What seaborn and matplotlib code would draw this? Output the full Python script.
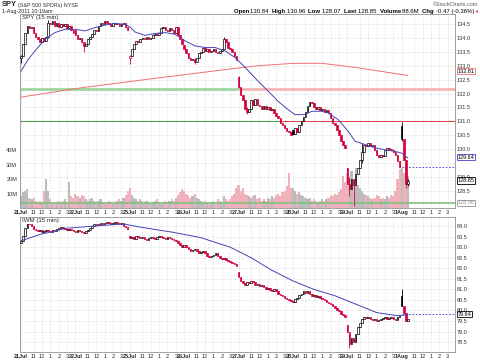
import matplotlib
matplotlib.use('Agg')
import matplotlib.pyplot as plt
import seaborn as sns
import pandas as pd

# --- data (15 min bars, 26 per session) ---
days = ['21Jul', '22Jul', '25Jul', '26Jul', '27Jul', '28Jul', '29Jul', '1Aug']
hour_labels = ['11', '12', '1', '2', '3']
hour_offsets = [6, 10, 14, 18, 22]
bars_per_day = 26

spy_close = [
    133.35, 133.8, 134.2, 134.45, 134.35, 134.4, 134.2, 134.05, 133.95, 133.85, 134.0, 133.9, 134.05,
    134.55, 134.5, 134.6, 134.45, 134.55, 134.4, 134.5, 134.45, 134.5, 134.35, 134.45, 134.3, 134.2,
    134.1, 133.95, 134.0, 133.85, 133.7, 133.8, 133.95, 134.05, 134.15, 134.3, 134.25, 134.45, 134.55,
    134.5, 134.6, 134.55, 134.5, 134.45, 134.55, 134.5, 134.5, 134.45, 134.5, 134.55, 134.4, 134.3,
    133.35, 133.6, 133.8, 133.9, 133.85, 133.95, 134.0, 133.95, 134.05, 133.95, 134.0, 134.1, 134.15,
    134.1, 134.2, 134.35, 134.4, 134.3, 134.25, 134.35, 134.3, 134.2, 134.4, 134.1, 133.95, 133.8,
    133.6, 133.45, 133.3, 133.2, 133.25, 133.15, 133.3, 133.45, 133.5, 133.65, 133.55, 133.6, 133.5,
    133.55, 133.6, 133.5, 133.45, 133.55, 133.6, 133.95, 133.85, 133.65, 133.6, 133.5, 133.35, 133.2,
    132.25, 131.95, 131.75, 131.45, 131.35, 131.45, 131.75, 131.6, 131.8, 131.6, 131.55, 131.45, 131.55,
    131.45, 131.5, 131.4, 131.45, 131.3, 131.2, 131.1, 130.95, 130.85, 130.75, 130.65, 130.6, 130.5,
    130.55, 130.75, 130.6, 130.85, 131.0, 131.15, 131.35, 131.55, 131.7, 131.65, 131.5, 131.45, 131.5,
    131.4, 131.45, 131.35, 131.4, 131.3, 131.1, 130.95, 130.85, 130.7, 130.5, 130.3, 130.15, 130.05,
    128.75, 128.55, 128.9, 128.7, 129.1, 129.3, 129.6, 129.9, 130.15, 130.1, 130.2, 130.1, 130.15,
    129.95, 129.8, 129.7, 129.8, 129.75, 129.95, 130.05, 130.0, 129.95, 129.9, 129.8, 129.55, 129.35,
    130.35, 129.6, 128.75, 128.85,
]
spy_day_open = {0: 133.3, 26: 134.3, 52: 133.3, 78: 133.75, 104: 132.6, 130: 130.7, 156: 129.3, 182: 130.84}
spy_wicks = {0: (133.1, 133.4), 13: (134.0, 134.65), 30: (133.5, 133.8), 52: (133.05, 133.4),
             83: (133.05, 133.3), 97: (133.6, 134.05), 104: (132.2, 132.65), 108: (131.25, 131.5),
             157: (128.3, 129.0), 159: (127.95, 128.9), 163: (129.5, 130.2), 182: (130.3, 130.96),
             184: (128.6, 129.6), 185: (128.65, 128.9)}
spy_volume = [  # millions
    8, 11, 12, 13, 7, 6.5, 7, 5, 4, 5, 4, 12, 20, 12, 6, 4, 3, 4, 5, 4, 5, 6, 4, 18, 8, 7,
    10, 8, 7, 9, 8, 6, 5, 6, 7, 5, 4, 5, 6, 4, 3, 4, 5, 4, 3, 4, 5, 6, 5, 7, 9, 12,
    14, 9, 7, 6, 5, 6, 5, 4, 5, 4, 3, 4, 5, 6, 4, 3, 4, 5, 4, 5, 6, 5, 7, 9, 11, 13,
    12, 10, 9, 7, 8, 10, 7, 6, 5, 4, 5, 4, 3, 4, 5, 4, 6, 5, 4, 8, 6, 5, 6, 8, 10, 14,
    16, 12, 14, 10, 9, 8, 7, 8, 9, 6, 7, 5, 6, 5, 7, 6, 8, 7, 9, 10, 8, 11, 12, 15, 24, 14,
    14, 12, 10, 11, 9, 8, 7, 6, 7, 5, 6, 5, 4, 5, 6, 5, 6, 7, 9, 8, 10, 9, 11, 13, 22, 18,
    24, 20, 26, 18, 28, 16, 14, 12, 10, 9, 8, 7, 6, 7, 9, 8, 6, 7, 6, 8, 7, 9, 8, 12, 20, 27,
    28, 24, 30, 22,
]
spy_ma_bar = [0, 3.5, 6.7, 11.5, 16.2, 21, 25.8, 30.6, 35.4, 40.2, 44.9, 49.7, 52.1, 54.5, 59.3, 64.1,
              68.8, 73.6, 78.4, 83.2, 88, 92.8, 97.5, 102.3, 107.1, 110.3, 113.3, 118.1, 122.9, 127.7,
              131, 135.8, 139, 143.8, 146.8, 151.6, 156.4, 159.7, 164.5, 169.3, 174.1, 178.9, 182, 185]
spy_ma = [132.81, 133.24, 133.54, 133.96, 134.2, 134.32, 134.32, 134.26, 134.38, 134.47, 134.53, 134.5,
          134.4, 134.22, 134.1, 134.17, 134.2, 134.14, 133.9, 133.72, 133.66, 133.66, 133.54, 133.3,
          132.95, 132.69, 132.45, 132.09, 131.72, 131.42, 131.24, 131.24, 131.36, 131.36, 131.3, 131.06,
          130.64, 130.28, 130.16, 130.04, 129.97, 129.91, 129.85, 129.67]
spy_ma200_bar = [0, 29, 60, 92, 107, 113, 130, 144, 161, 185]
spy_ma200 = [131.87, 132.21, 132.51, 132.81, 132.95, 133.0, 133.09, 133.09, 132.93, 132.65]

iwm_close = [
    83.3, 83.55, 83.9, 84.2, 84.1, 84.0, 83.85, 83.8, 83.75, 83.8, 83.7, 83.75, 83.8,
    83.75, 83.7, 83.8, 83.75, 83.85, 83.9, 83.95, 83.9, 83.85, 83.8, 83.85, 83.8, 83.75,
    83.7, 83.8, 83.75, 83.7, 83.65, 83.75, 83.8, 83.9, 84.0, 84.1, 84.05, 84.1, 84.15,
    84.1, 84.15, 84.2, 84.15, 84.1, 84.15, 84.2, 84.15, 84.1, 84.15, 84.0, 83.95, 83.85,
    83.45, 83.5, 83.4, 83.55, 83.5, 83.45, 83.5, 83.4, 83.35, 83.45, 83.5, 83.45, 83.4,
    83.5, 83.55, 83.5, 83.45, 83.4, 83.5, 83.45, 83.4, 83.35, 83.3, 83.2, 83.1, 83.0,
    83.1, 83.0, 82.9, 82.8, 82.85, 82.9, 82.8, 82.7, 82.75, 82.8, 82.7, 82.6, 82.55,
    82.6, 82.65, 82.7, 82.6, 82.5, 82.45, 82.5, 82.4, 82.35, 82.3, 82.25, 82.2, 82.1,
    81.6, 81.4, 81.3, 81.2, 81.35, 81.3, 81.4, 81.35, 81.2, 81.25, 81.15, 81.2, 81.1,
    81.0, 81.05, 80.95, 80.9, 81.0, 80.9, 80.8, 80.75, 80.7, 80.6, 80.55, 80.5, 80.45,
    80.4, 80.55, 80.6, 80.75, 80.8, 80.9, 80.85, 80.9, 80.8, 80.7, 80.75, 80.65, 80.7,
    80.6, 80.55, 80.5, 80.4, 80.35, 80.3, 80.2, 80.1, 80.0, 79.95, 79.85, 79.8, 79.7,
    79.0, 78.4, 78.7, 78.5, 78.9, 79.2, 79.4, 79.6, 79.7, 79.65, 79.7, 79.6, 79.55,
    79.6, 79.5, 79.55, 79.6, 79.65, 79.7, 79.6, 79.65, 79.7, 79.6, 79.55, 79.7, 79.75,
    80.2, 79.9, 79.5, 79.6,
]
iwm_day_open = {0: 83.2, 26: 83.75, 52: 83.55, 78: 83.0, 104: 81.8, 130: 80.45, 156: 79.3, 182: 80.7}
iwm_wicks = {157: (78.2, 78.9), 182: (80.2, 81.0)}
iwm_ma_bar = [0, 9, 22, 35, 49, 57, 73, 86, 100, 110, 120, 130, 140, 150, 160, 170, 180, 185]
iwm_ma = [83.3, 83.6, 83.9, 84.0, 84.1, 83.95, 83.7, 83.45, 83.0, 82.5, 81.9, 81.4, 81.0, 80.7,
          80.3, 79.9, 79.75, 79.8]

RED = '#d6003a'
FS = 4.0
n_slots = bars_per_day * len(days)


def candles(ax, closes, day_open, wicks):
    rows = []
    prev = None
    for i, c in enumerate(closes):
        o = day_open.get(i, prev)
        if prev is None:
            prev = o
        color = RED if c < prev else 'black'
        lo, hi = wicks.get(i, (min(o, c), max(o, c)))
        rows.append((i, o, c, lo, hi, color))
        prev = c
    df = pd.DataFrame(rows, columns=['i', 'o', 'c', 'lo', 'hi', 'color'])
    ax.vlines(df['i'], df['lo'], df['hi'], colors=df['color'], lw=0.6, zorder=3)
    body = (df['c'] - df['o']).abs().clip(lower=0.02)
    face = [col if c < o else 'white' for col, c, o in zip(df['color'], df['c'], df['o'])]
    ax.bar(df['i'], body, bottom=df[['o', 'c']].min(axis=1), width=0.75, color=face,
           edgecolor=df['color'], linewidth=0.5, zorder=4)
    return df


def style_axis(ax, ylim, yticks, hidden=()):
    ax.set_xlim(-0.5, n_slots - 0.5)
    ax.set_ylim(*ylim)
    ax.yaxis.tick_right()
    ax.set_yticks(yticks)
    # tick labels that sit under a value box are left out, as in the picture
    ax.set_yticklabels(['' if t in hidden else f'{t:.1f}' for t in yticks], fontsize=FS, color='#333333')
    ticks, labels = [], []
    for d, name in enumerate(days):
        ticks.append(d * bars_per_day)
        labels.append(name)
        for off, h in zip(hour_offsets, hour_labels):
            ticks.append(d * bars_per_day + off)
            labels.append(h)
    ax.set_xticks(ticks)
    ax.set_xticklabels(labels, fontsize=FS)
    for lab in ax.get_xticklabels():
        if lab.get_text() in days:
            lab.set_fontweight('bold')
    ax.tick_params(length=0, pad=1.5)
    ax.grid(True, color='#c8c8c8', ls=(0, (1, 2)), lw=0.5)
    ax.set_axisbelow(True)
    for s in ax.spines.values():
        s.set_color('#909090')
        s.set_linewidth(0.6)


def side_label(ax, y, text, edge, tcolor='black'):
    ax.annotate(text, xy=(1.006, y), xycoords=('axes fraction', 'data'), fontsize=FS,
                va='center', ha='left', color=tcolor, annotation_clip=False,
                bbox=dict(boxstyle='square,pad=0.12', fc='white', ec=edge, lw=0.6))


sns.set_style('white')
plt.rcParams['font.family'] = ['Liberation Sans', 'DejaVu Sans']

fig = plt.figure(figsize=(4.8, 3.61), dpi=100)
ax1 = fig.add_axes([20 / 480, 1 - 208 / 361, 435 / 480, 194 / 361])
ax2 = fig.add_axes([20 / 480, 1 - 352 / 361, 435 / 480, 135 / 361])

# --- SPY panel ---
axv = ax1.twinx()
style_axis(ax1, (127.87, 134.87), [128.5 + 0.5 * k for k in range(13)], hidden=(129.5,))
spy = candles(ax1, spy_close, spy_day_open, spy_wicks)
vol_col = ['#eea4b0' if c == RED else '#b0b0b0' for c in spy['color']]
axv.bar(range(len(spy_volume)), [v * 1e6 for v in spy_volume], width=1.0, color=vol_col, alpha=0.85, lw=0)
axv.set_ylim(0, 134.7e6)
axv.yaxis.tick_left()
axv.set_yticks([10e6, 20e6, 30e6, 40e6])
axv.set_yticklabels(['10M', '20M', '30M', '40M'], fontsize=FS, color='#333333')
axv.tick_params(length=0, pad=2)
for s in axv.spines.values():
    s.set_visible(False)
axv.set_zorder(0)
ax1.set_zorder(1)
ax1.patch.set_visible(False)
ax1.yaxis.tick_right()

ax1.hlines(132.15, -0.5, 104, color='#9fd49f', lw=2.0, zorder=2)
ax1.hlines(132.15, 104, n_slots - 0.5, color='#f7b4b4', lw=2.0, zorder=2)
ax1.hlines(131.0, -0.5, 123, color='#3c9c3c', lw=0.7, zorder=2)
ax1.hlines(131.0, 123, n_slots - 0.5, color='#e04040', lw=0.7, zorder=2)
ax1.hlines(128.06, -0.5, n_slots - 0.5, color='#80c080', lw=1.2, zorder=2)
ax1.hlines(129.35, 182, n_slots - 0.5, color='#3030d0', lw=0.6, ls=(0, (2, 2)), zorder=2)
sns.lineplot(x=spy_ma200_bar, y=spy_ma200, ax=ax1, color='#f07070', lw=0.7, zorder=2)
sns.lineplot(x=spy_ma_bar, y=spy_ma, ax=ax1, color='#4444bb', lw=0.7, zorder=5)
ax1.set_xlabel('')
ax1.set_ylabel('')
ax1.text(0.004, 0.995, 'SPY (15 min)', transform=ax1.transAxes, fontsize=FS + 0.4, va='top', ha='left',
         bbox=dict(fc='white', ec='none', pad=0.3), zorder=6)
side_label(ax1, 132.81, '132.81', '#f07070')
side_label(ax1, 129.70, '129.64', '#4040c0')
side_label(ax1, 128.86, '128.85', 'black')
side_label(ax1, 128.06, '128.06', '#909090', '#909090')

# --- IWM panel ---
style_axis(ax2, (78.03, 84.43), [78.5 + 0.5 * k for k in range(12)])
candles(ax2, iwm_close, iwm_day_open, iwm_wicks)
ax2.hlines(79.83, 182, n_slots - 0.5, color='#3030d0', lw=0.6, ls=(0, (2, 2)), zorder=2)
sns.lineplot(x=iwm_ma_bar, y=iwm_ma, ax=ax2, color='#4444bb', lw=0.7, zorder=5)
ax2.set_xlabel('')
ax2.set_ylabel('')
ax2.text(0.004, 0.99, 'IWM (15 min)', transform=ax2.transAxes, fontsize=FS + 0.4, va='top', ha='left',
         bbox=dict(fc='white', ec='none', pad=0.3), zorder=6)
side_label(ax2, 79.83, '79.64', 'black')

# --- header ---
fig.text(2 / 480, 1 - 5 / 361, 'SPY', fontsize=5.4, fontweight='bold', va='center')
fig.text(18 / 480, 1 - 5 / 361, '(S&P 500 SPDRs) NYSE', fontsize=3.9, va='center', color='#333333')
fig.text(2 / 480, 1 - 11.5 / 361, '1-Aug-2011 10:19am', fontsize=3.9, va='center')
fig.text(478 / 480, 1 - 4.5 / 361, '\u00a9StockCharts.com', fontsize=3.9, va='center', ha='right', color='#555555')

runs = [('Open ', True), ('130.84  ', False), ('High ', True), ('130.96  ', False), ('Low ', True),
        ('128.07  ', False), ('Last ', True), ('128.85  ', False), ('Volume ', True), ('88.6M  ', False),
        ('Chg ', True), ('-0.47 (-0.36%)', False), ('\u25bc', False)]
renderer = fig.canvas.get_renderer()
pieces = []
for txt, bold in runs:
    t = fig.text(0, 1 - 11.5 / 361, txt, fontsize=4.3, va='center', ha='left',
                 fontweight='bold' if bold else 'normal',
                 color=RED if txt == '\u25bc' else 'black')
    if txt == '\u25bc':
        t.set_fontsize(3.0)
    pieces.append((t, t.get_window_extent(renderer).width))
x = 478 - sum(w for _, w in pieces)
for t, w in pieces:
    t.set_x(x / 480)
    x += w

fig.savefig('out.png', dpi=100, facecolor='white')
